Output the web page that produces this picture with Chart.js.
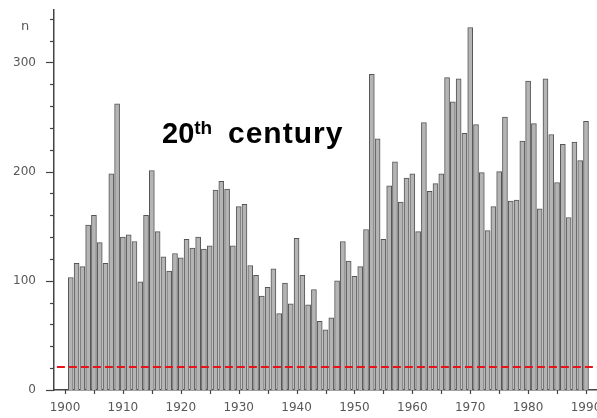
<!DOCTYPE html>
<html>
<head>
<meta charset="utf-8">
<title>20th century</title>
<script src="https://cdn.jsdelivr.net/npm/chart.js@4.4.1/dist/chart.umd.min.js"></script>
<style>
    html, body { margin: 0; padding: 0; background: #fff; }
    #chart { display: block; }
</style>
</head>
<body>
<canvas id="chart" width="597" height="418"></canvas>
<script>
// Yearly counts (n)
const years = [
    1901, 1902, 1903, 1904, 1905, 1906, 1907, 1908, 1909, 1910,
    1911, 1912, 1913, 1914, 1915, 1916, 1917, 1918, 1919, 1920,
    1921, 1922, 1923, 1924, 1925, 1926, 1927, 1928, 1929, 1930,
    1931, 1932, 1933, 1934, 1935, 1936, 1937, 1938, 1939, 1940,
    1941, 1942, 1943, 1944, 1945, 1946, 1947, 1948, 1949, 1950,
    1951, 1952, 1953, 1954, 1955, 1956, 1957, 1958, 1959, 1960,
    1961, 1962, 1963, 1964, 1965, 1966, 1967, 1968, 1969, 1970,
    1971, 1972, 1973, 1974, 1975, 1976, 1977, 1978, 1979, 1980,
    1981, 1982, 1983, 1984, 1985, 1986, 1987, 1988, 1989, 1990
];
const counts = [
    103, 116, 113, 151, 160, 135, 116, 198, 262, 140,
    142, 136, 99, 160, 201, 145, 122, 109, 125, 121,
    138, 130, 140, 129, 132, 183, 191, 184, 132, 168,
    170, 114, 105, 86, 94, 111, 70, 98, 79, 139,
    105, 78, 92, 63, 55, 66, 100, 136, 118, 104,
    113, 147, 289, 230, 138, 187, 209, 172, 194, 198,
    145, 245, 182, 189, 198, 286, 264, 285, 235, 332,
    243, 199, 146, 168, 200, 250, 173, 174, 228, 283,
    244, 166, 285, 234, 190, 225, 158, 227, 210, 246
];
const xTickYears = [1900, 1910, 1920, 1930, 1940, 1950, 1960, 1970, 1980, 1990];
const yTickValues = [0, 100, 200, 300];
const thresholdValue = 21;   // red dashed line

// axis ranges
const xMin = 1898.1;
const xMax = 1991.9;
const yMax = 348;

const labelColor = '#585858';
const axisColor = '#444';

// Small tick marks, annotation text and the "n" axis label
const decorPlugin = {
    id: 'decor',
    afterDraw(chart) {
        const ctx = chart.ctx;
        const area = chart.chartArea;
        const x = chart.scales.x;
        const y = chart.scales.y;
        ctx.save();
        ctx.strokeStyle = axisColor;
        ctx.lineWidth = 1.2;

        // y ticks every 20, longer at every 100
        for (let v = 0; v <= yMax; v += 20) {
            const py = Math.round(y.getPixelForValue(v)) + 0.5;
            const len = v % 100 === 0 ? 8 : 4;
            ctx.beginPath();
            ctx.moveTo(area.left - len, py);
            ctx.lineTo(area.left, py);
            ctx.stroke();
        }
        // x ticks every 5 years
        for (let yr = 1900; yr <= 1990; yr += 5) {
            const px = Math.round(x.getPixelForValue(yr)) + 0.5;
            ctx.beginPath();
            ctx.moveTo(px, area.bottom);
            ctx.lineTo(px, area.bottom + 4);
            ctx.stroke();
        }

        // "n" label above the y axis
        ctx.fillStyle = labelColor;
        ctx.font = '13px "DejaVu Sans"';
        ctx.textAlign = 'center';
        ctx.textBaseline = 'alphabetic';
        ctx.fillText('n', 25, 30);

        // "20th century"
        ctx.fillStyle = '#000';
        ctx.textAlign = 'left';
        ctx.font = 'bold 29px "Liberation Sans", Arial, sans-serif';
        ctx.fillText('20', 162, 143);
        const w20 = ctx.measureText('20').width;
        ctx.font = 'bold 19px "Liberation Sans", Arial, sans-serif';
        ctx.fillText('th', 162 + w20, 134);
        ctx.font = 'bold 30px "Liberation Sans", Arial, sans-serif';
        ctx.letterSpacing = '1px';
        ctx.fillText('century', 228, 143);
        ctx.restore();
    }
};

const barData = years.map((yr, i) => ({ x: yr, y: counts[i] }));

const chart = new Chart(document.getElementById('chart'), {
    type: 'bar',
    data: {
        datasets: [
            {
                type: 'line',
                data: [{ x: 1898.6, y: thresholdValue }, { x: xMax, y: thresholdValue }],
                borderColor: '#e8141c',
                borderWidth: 2,
                borderDash: [8, 4],
                pointRadius: 0,
                fill: false,
                order: 0
            },
            {
                type: 'bar',
                data: barData,
                backgroundColor: '#b4b4b4',
                borderColor: '#555',
                borderWidth: 1,
                barThickness: 5,
                order: 1
            }
        ]
    },
    options: {
        responsive: false,
        animation: false,
        layout: {
            padding: { top: 10, left: 0, right: 0, bottom: 0 }
        },
        plugins: {
            legend: { display: false },
            tooltip: { enabled: false }
        },
        scales: {
            x: {
                type: 'linear',
                offset: false,
                min: xMin,
                max: xMax,
                grid: { display: false, drawTicks: false, offset: false },
                border: { display: true, color: axisColor, width: 1.5 },
                ticks: {
                    padding: 11,
                    color: labelColor,
                    font: { family: 'DejaVu Sans', size: 12 },
                    maxRotation: 0,
                    autoSkip: false,
                    callback: (v) => String(v)
                },
                afterBuildTicks: (scale) => {
                    scale.ticks = xTickYears.map(v => ({ value: v }));
                },
                afterFit: (scale) => {
                    scale.height = 28;
                    scale.paddingLeft = 0;
                    scale.paddingRight = 0;
                }
            },
            y: {
                min: 0,
                max: yMax,
                grid: { display: false, drawTicks: false },
                border: { display: true, color: axisColor, width: 1.5 },
                ticks: {
                    padding: 18,
                    color: labelColor,
                    font: { family: 'DejaVu Sans', size: 12 }
                },
                afterBuildTicks: (scale) => {
                    scale.ticks = yTickValues.map(v => ({ value: v }));
                },
                afterFit: (scale) => {
                    scale.width = 54;
                    scale.paddingTop = 0;
                    scale.paddingBottom = 0;
                }
            }
        }
    },
    plugins: [decorPlugin]
});
</script>
</body>
</html>
